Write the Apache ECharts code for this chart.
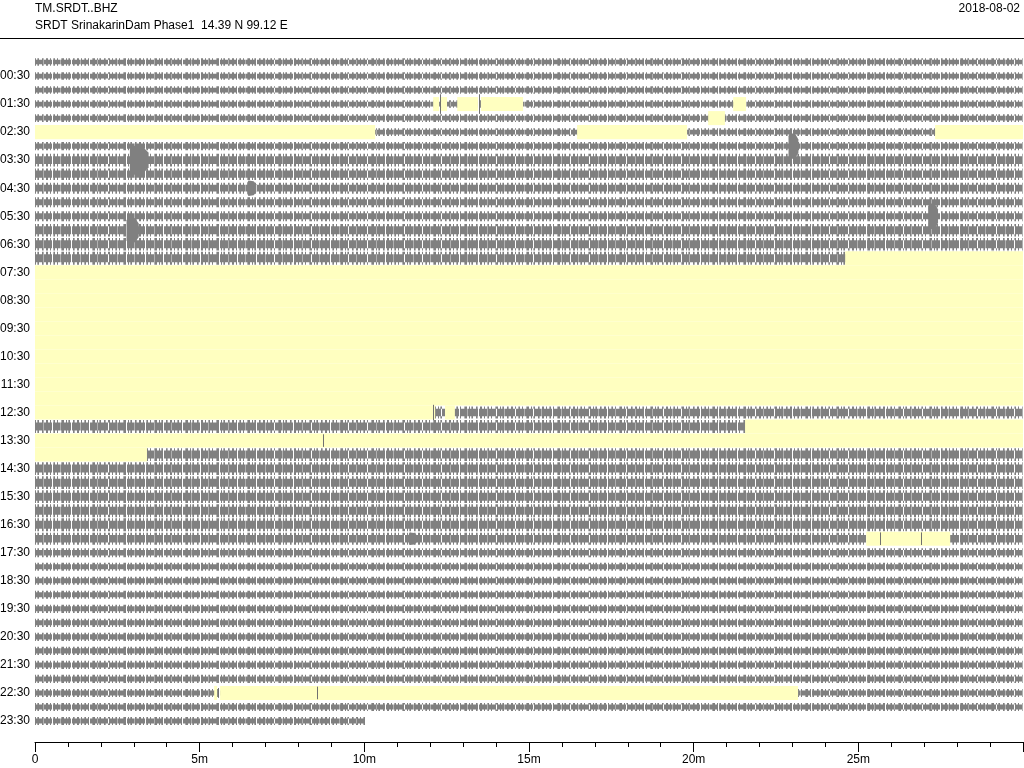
<!DOCTYPE html>
<html>
<head>
<meta charset="utf-8">
<script src="https://cdn.jsdelivr.net/npm/echarts@6/dist/echarts.min.js"></script>
<style>
html,body{margin:0;padding:0;background:#fff;}
#chart{width:1024px;height:768px;}
</style>
</head>
<body>
<div id="chart"></div>
<script>
// ---- Data (minutes within each 30-minute row, row index 0 = 00:00) ----
const rowTimes = ['00:00','00:30','01:00','01:30','02:00','02:30','03:00','03:30','04:00','04:30','05:00','05:30',
  '06:00','06:30','07:00','07:30','08:00','08:30','09:00','09:30','10:00','10:30','11:00','11:30',
  '12:00','12:30','13:00','13:30','14:00','14:30','15:00','15:30','16:00','16:30','17:00','17:30',
  '18:00','18:30','19:00','19:30','20:00','20:30','21:00','21:30','22:00','22:30','23:00','23:30'];

// typical trace half-amplitude per row (in row-spacing units)
const rowAmplitude = [
  0.27,0.27,0.27,0.27,0.27,0.27,
  0.29,0.45,0.41,0.39,0.35,0.35,0.45,0.45,0.46,
  0,0,0,0,0,0,0,0,0,0,
  0.43,0.46,0,0.46,0.46,0.46,0.46,0.46,0.46,0.43,0.32,
  0.29,0.29,0.29,0.29,0.29,0.29,0.29,0.29,0.29,0.29,0.29,0.29
];

// rows whose trace ends before 30 min: [row, endMinute]
const partialRows = [[47, 10.02]];

// data gaps: [row, startMinute, endMinute]
const gaps = [
  [3, 12.09, 12.27], [3, 12.33, 12.51], [3, 12.82, 13.45], [3, 13.54, 14.82], [3, 21.20, 21.59],
  [4, 20.44, 20.95],
  [5, 0, 10.33], [5, 16.46, 19.80], [5, 27.33, 30],
  [14, 24.60, 30],
  [15, 0, 30], [16, 0, 30], [17, 0, 30], [18, 0, 30], [19, 0, 30],
  [20, 0, 30], [21, 0, 30], [22, 0, 30], [23, 0, 30], [24, 0, 30],
  [25, 0, 12.15], [25, 12.45, 12.75],
  [26, 21.56, 30],
  [27, 0, 30],
  [28, 0, 3.40],
  [34, 25.24, 27.79],
  [45, 5.44, 5.53], [45, 5.62, 23.17]
];

// earthquake bursts: [row, startMinute, endMinute, halfAmplitude]
const events = [
  [7, 2.88, 3.45, 1.05],
  [6, 22.88, 23.18, 0.95],
  [11, 27.12, 27.42, 0.95],
  [12, 2.78, 3.15, 0.95],
  [9, 6.45, 6.72, 0.55],
  [34, 11.35, 11.60, 0.45]
];

// single glitch spikes: [row, minute, halfAmplitude]
const spikes = [
  [3, 12.30, 0.70], [3, 13.48, 0.70],
  [25, 12.10, 0.55],
  [27, 8.75, 0.45],
  [34, 25.66, 0.45], [34, 26.90, 0.45],
  [45, 5.57, 0.35], [45, 8.57, 0.45]
];

// x-axis tick labels (minutes)
const xTickLabels = {0:'0', 5:'5m', 10:'10m', 15:'15m', 20:'20m', 25:'25m'};

// ---- Styling helpers: hatch textures that imitate a dense waveform ----
function hatch(cols) {
  const c = document.createElement('canvas');
  c.width = cols.length; c.height = 1;
  const g = c.getContext('2d');
  cols.forEach((col, i) => { g.fillStyle = col; g.fillRect(i, 0, 1, 1); });
  return {image: c, repeat: 'repeat'};
}
const G = '#808080', W = '#ffffff', L = '#b0b0b0';
const outerFill = hatch([G,G,W,W,G,W,L,G,W,W,W,G,L,W,W,G,G,W,W,G,W,W,L,G,W,W,G,W,W,W,L]);
const coreFill = hatch([G,G,G,G,G,G,L,G,G,G,G,G,G,G,G,W,G,G,G,G,G,G,G,L,G,G,G,G,G,G,G,G,G,G,W,G,G]);

// ---- Build series data ----
const bandData = rowAmplitude.map((a, i) => {
  let end = 30;
  partialRows.forEach(p => { if (p[0] === i) end = p[1]; });
  return [0, i, end, a];
}).filter(d => d[3] > 0);

const gapData = gaps.map(g => [g[1], g[0], g[2]]);
const eventData = events.map(e => [e[1], e[0], e[2], e[3]]);
const spikeData = spikes.map(s => [s[1], s[0], s[2]]);

function rowH(api) {
  return Math.abs(api.coord([0, 1])[1] - api.coord([0, 0])[1]);
}

const FONT = 'Liberation Sans, Arial, sans-serif';

const chart = echarts.init(document.getElementById('chart'), null, {renderer: 'canvas'});
chart.setOption({
  animation: false,
  backgroundColor: '#fff',
  grid: {left: 35, right: 1, top: 55, height: 673, containLabel: false, outerBoundsMode: 'none'},
  xAxis: {
    type: 'value', min: 0, max: 30, interval: 5,
    position: 'bottom', offset: 14,
    axisLine: {show: true, onZero: false, lineStyle: {color: '#000', width: 1}},
    axisTick: {show: true, length: 10, lineStyle: {color: '#000'}},
    minorTick: {show: true, splitNumber: 5, length: 5, lineStyle: {color: '#000'}},
    splitLine: {show: false},
    axisLabel: {color: '#000', fontSize: 12, fontFamily: FONT, margin: 12,
      formatter: v => (xTickLabels[v] !== undefined ? xTickLabels[v] : '')}
  },
  yAxis: {
    type: 'category', data: rowTimes, inverse: true,
    axisLine: {show: false}, axisTick: {show: false}, splitLine: {show: false},
    axisLabel: {color: '#000', fontSize: 12, fontFamily: FONT, margin: 5,
      interval: (idx, val) => val.slice(3) === '30'}
  },
  graphic: [
    {type: 'text', left: 35, top: 3, style: {text: 'TM.SRDT..BHZ', fill: '#000', font: '12px ' + FONT}},
    {type: 'text', left: 35, top: 20, style: {text: 'SRDT SrinakarinDam Phase1  14.39 N 99.12 E', fill: '#000', font: '12px ' + FONT}},
    {type: 'text', right: 4, top: 3, style: {text: '2018-08-02', fill: '#000', font: '12px ' + FONT}},
    {type: 'line', shape: {x1: 0, y1: 38.5, x2: 1024, y2: 38.5}, style: {stroke: '#000', lineWidth: 1}}
  ],
  series: [
    {
      type: 'custom', name: 'trace', data: bandData, clip: false,
      encode: {x: [0, 2], y: 1},
      renderItem: (params, api) => {
        const p0 = api.coord([api.value(0), api.value(1)]);
        const p1 = api.coord([api.value(2), api.value(1)]);
        const h = rowH(api) * api.value(3);
        const x = Math.round(p0[0]), w = Math.round(p1[0]) - x;
        return {type: 'group', children: [
          {type: 'rect', shape: {x: x, y: p0[1] - h, width: w, height: 2 * h}, style: {fill: outerFill}},
          {type: 'rect', shape: {x: x, y: p0[1] - h * 0.62, width: w, height: 1.24 * h}, style: {fill: coreFill}}
        ]};
      }
    },
    {
      type: 'custom', name: 'events', data: eventData, clip: false,
      encode: {x: [0, 2], y: 1},
      renderItem: (params, api) => {
        const p0 = api.coord([api.value(0), api.value(1)]);
        const p1 = api.coord([api.value(2), api.value(1)]);
        const h = rowH(api) * api.value(3);
        const w = p1[0] - p0[0], y = p0[1], x = p0[0];
        return {type: 'polygon', shape: {points: [
          [x, y - h * 0.75], [x + w * 0.12, y - h], [x + w * 0.7, y - h * 0.9], [x + w, y - h * 0.5],
          [x + w, y + h * 0.5], [x + w * 0.7, y + h * 0.9], [x + w * 0.12, y + h], [x, y + h * 0.75]
        ]}, style: {fill: '#808080'}};
      }
    },
    {
      type: 'custom', name: 'gaps', data: gapData, clip: false,
      encode: {x: [0, 2], y: 1},
      renderItem: (params, api) => {
        const p0 = api.coord([api.value(0), api.value(1)]);
        const p1 = api.coord([api.value(2), api.value(1)]);
        const h = rowH(api);
        return {type: 'rect', shape: {x: p0[0], y: p0[1] - h / 2, width: p1[0] - p0[0], height: h}, style: {fill: '#ffffc0'}};
      }
    },
    {
      type: 'custom', name: 'spikes', data: spikeData, clip: false,
      encode: {x: 0, y: 1},
      renderItem: (params, api) => {
        const p = api.coord([api.value(0), api.value(1)]);
        const h = rowH(api) * api.value(2);
        const x = Math.round(p[0]) + 0.5;
        return {type: 'line', shape: {x1: x, y1: p[1] - h, x2: x, y2: p[1] + h}, style: {stroke: '#707070', lineWidth: 1}};
      }
    }
  ]
});
</script>
</body>
</html>
